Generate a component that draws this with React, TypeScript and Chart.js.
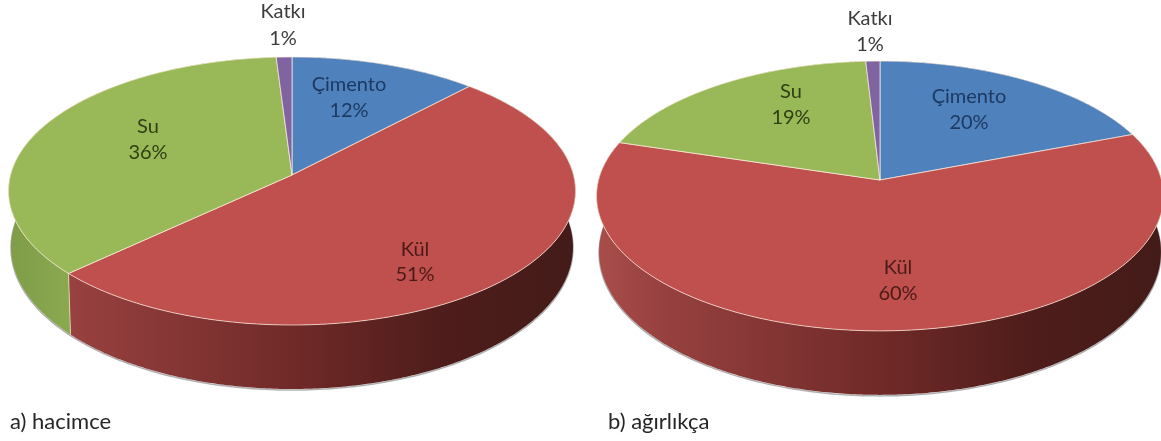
import React, { useEffect, useRef } from "react";
import { Chart, registerables } from "chart.js";

Chart.register(...registerables);

const categories = ["Çimento", "Kül", "Su", "Katkı"];
const valuesByVolume = [12, 51, 36, 1];
const valuesByWeight = [19.2, 60.5, 19.4, 0.9];
const percentLabelsByVolume = ["12%", "51%", "36%", "1%"];
const percentLabelsByWeight = ["20%", "60%", "19%", "1%"];
const captionByVolume = "a) hacimce";
const captionByWeight = "b) ağırlıkça";

const topColors = ["#4f81bd", "#c0504d", "#99b958", "#8064a2"];
const textColors = ["#1c3a63", "#4a1a18", "#2f3f12", "#3c3c3c"];
const FONT = "Lato, 'Open Sans', sans-serif";

type Stop = [number, string];
const sideStops: Stop[][] = [
  [[0, "#5f7fb0"], [1, "#24406a"]],
  [[0, "#a94d4a"], [0.11, "#974140"], [0.5, "#702a28"], [0.76, "#4f1d1b"], [1, "#431b18"]],
  [[0, "#7f9c48"], [0.1, "#8aa94f"], [1, "#5a7030"]],
  [[0, "#6a5388"], [1, "#45365c"]],
];

const pie3d = {
  id: "pie3d",
  beforeDatasetsDraw(chart: any, _a: any, o: any) {
    const ctx: CanvasRenderingContext2D = chart.ctx;
    const arcs = chart.getDatasetMeta(0).data;
    const { cx, cy, A, B, p, texts, labels } = o;
    const top = (t: number) => {
      const X = Math.sin(t), Y = Math.cos(t), w = 1 + p * Y;
      return [cx + (A * X) / w, cy - (B * Y) / w];
    };
    const bot = (t: number) => {
      const X = Math.sin(t), Y = Math.cos(t), w = 1 + p * Y;
      return [cx + (0.991 * A * X) / w, cy - (B * Y) / w + 55 - 9 * Y];
    };
    const samples = (el: any) => {
      const s = el.startAngle + Math.PI / 2, e = el.endAngle + Math.PI / 2;
      const n = Math.max(2, Math.ceil((e - s) / 0.01));
      const out: number[] = [];
      for (let i = 0; i <= n; i++) out.push(s + ((e - s) * i) / n);
      return out;
    };
    ctx.save();
    // soft edge under the lower rim
    ctx.beginPath();
    for (let i = 0; i <= 360; i++) {
      const [x, y] = bot((i * Math.PI) / 180);
      if (i === 0) ctx.moveTo(x, y + 1); else ctx.lineTo(x, y + 1);
    }
    ctx.closePath();
    ctx.strokeStyle = "rgba(110,110,110,0.55)";
    ctx.lineWidth = 1.5;
    ctx.stroke();
    // sides
    arcs.forEach((el: any, i: number) => {
      const ts = samples(el);
      const g = ctx.createLinearGradient(cx - A, 0, cx + A, 0);
      sideStops[i].forEach(([f, c]) => g.addColorStop(f, c));
      ctx.beginPath();
      ts.forEach((t, k) => {
        const [x, y] = top(t);
        if (k === 0) ctx.moveTo(x, y); else ctx.lineTo(x, y);
      });
      [...ts].reverse().forEach((t) => {
        const [x, y] = bot(t);
        ctx.lineTo(x, y);
      });
      ctx.closePath();
      ctx.fillStyle = g;
      ctx.fill();
    });
    arcs.forEach((el: any) => {
      const t = el.startAngle + Math.PI / 2;
      const [x0, y0] = top(t), [x1, y1] = bot(t);
      ctx.beginPath();
      ctx.moveTo(x0, y0);
      ctx.lineTo(x1, y1);
      ctx.strokeStyle = "rgba(240,225,190,0.75)";
      ctx.lineWidth = 1;
      ctx.stroke();
    });
    // top faces
    arcs.forEach((el: any, i: number) => {
      ctx.beginPath();
      ctx.moveTo(cx, cy);
      samples(el).forEach((t) => {
        const [x, y] = top(t);
        ctx.lineTo(x, y);
      });
      ctx.closePath();
      ctx.fillStyle = topColors[i];
      ctx.fill();
      ctx.strokeStyle = "rgba(255,240,225,0.7)";
      ctx.lineWidth = 1;
      ctx.stroke();
    });
    // data labels
    ctx.font = `20px ${FONT}`;
    ctx.textAlign = "center";
    ctx.textBaseline = "middle";
    texts.forEach((pos: number[], i: number) => {
      ctx.fillStyle = textColors[i];
      ctx.fillText(categories[i], pos[0], pos[1]);
      ctx.fillText(labels[i], pos[0], pos[2]);
    });
    ctx.restore();
    return false;
  },
};

type Spec = {
  values: number[];
  percents: string[];
  caption: string;
  left: number;
  width: number;
  captionPad: number;
  cx: number;
  cy: number;
  p: number;
  B: number;
  texts: number[][];
};

const layouts: Spec[] = [
  {
    values: valuesByVolume, percents: percentLabelsByVolume, caption: captionByVolume,
    left: 0, width: 585, captionPad: 10, cx: 292, cy: 175, p: 0.1194, B: 132.1,
    texts: [[349, 85, 111], [415, 250, 275], [148, 127, 153], [283, 12, 39]],
  },
  {
    values: valuesByWeight, percents: percentLabelsByWeight, caption: captionByWeight,
    left: 585, width: 576, captionPad: 23, cx: 295, cy: 180, p: 0.1185, B: 133,
    texts: [[384, 97, 123], [313, 268, 294], [206, 92, 118], [285, 19, 45]],
  },
];

function Pie({ spec }: { spec: Spec }) {
  const ref = useRef<HTMLCanvasElement>(null);
  useEffect(() => {
    const chart = new Chart(ref.current!, {
      type: "pie",
      plugins: [pie3d],
      data: {
        labels: categories,
        datasets: [{ data: spec.values, backgroundColor: topColors }],
      },
      options: {
        animation: false,
        responsive: false,
        layout: { padding: { left: spec.captionPad, bottom: 6 } },
        plugins: {
          legend: { display: false },
          tooltip: { enabled: false },
          title: {
            display: true,
            text: spec.caption,
            position: "bottom",
            align: "start",
            color: "#262626",
            padding: 0,
            font: { family: FONT, size: 22, weight: "normal" },
          },
          pie3d: {
            cx: spec.cx, cy: spec.cy, A: 281.5, B: spec.B, p: spec.p,
            texts: spec.texts, labels: spec.percents,
          },
        } as any,
      },
    });
    return () => chart.destroy();
  }, [spec]);
  return (
    <canvas
      ref={ref}
      width={spec.width}
      height={441}
      style={{ position: "absolute", left: spec.left, top: 0, filter: "blur(0.4px)" }}
    />
  );
}

export default function App() {
  return (
    <div style={{ position: "fixed", left: 0, top: 0, width: 1161, height: 441, background: "#fff", overflow: "hidden" }}>
      {layouts.map((s) => (
        <Pie key={s.caption} spec={s} />
      ))}
    </div>
  );
}
